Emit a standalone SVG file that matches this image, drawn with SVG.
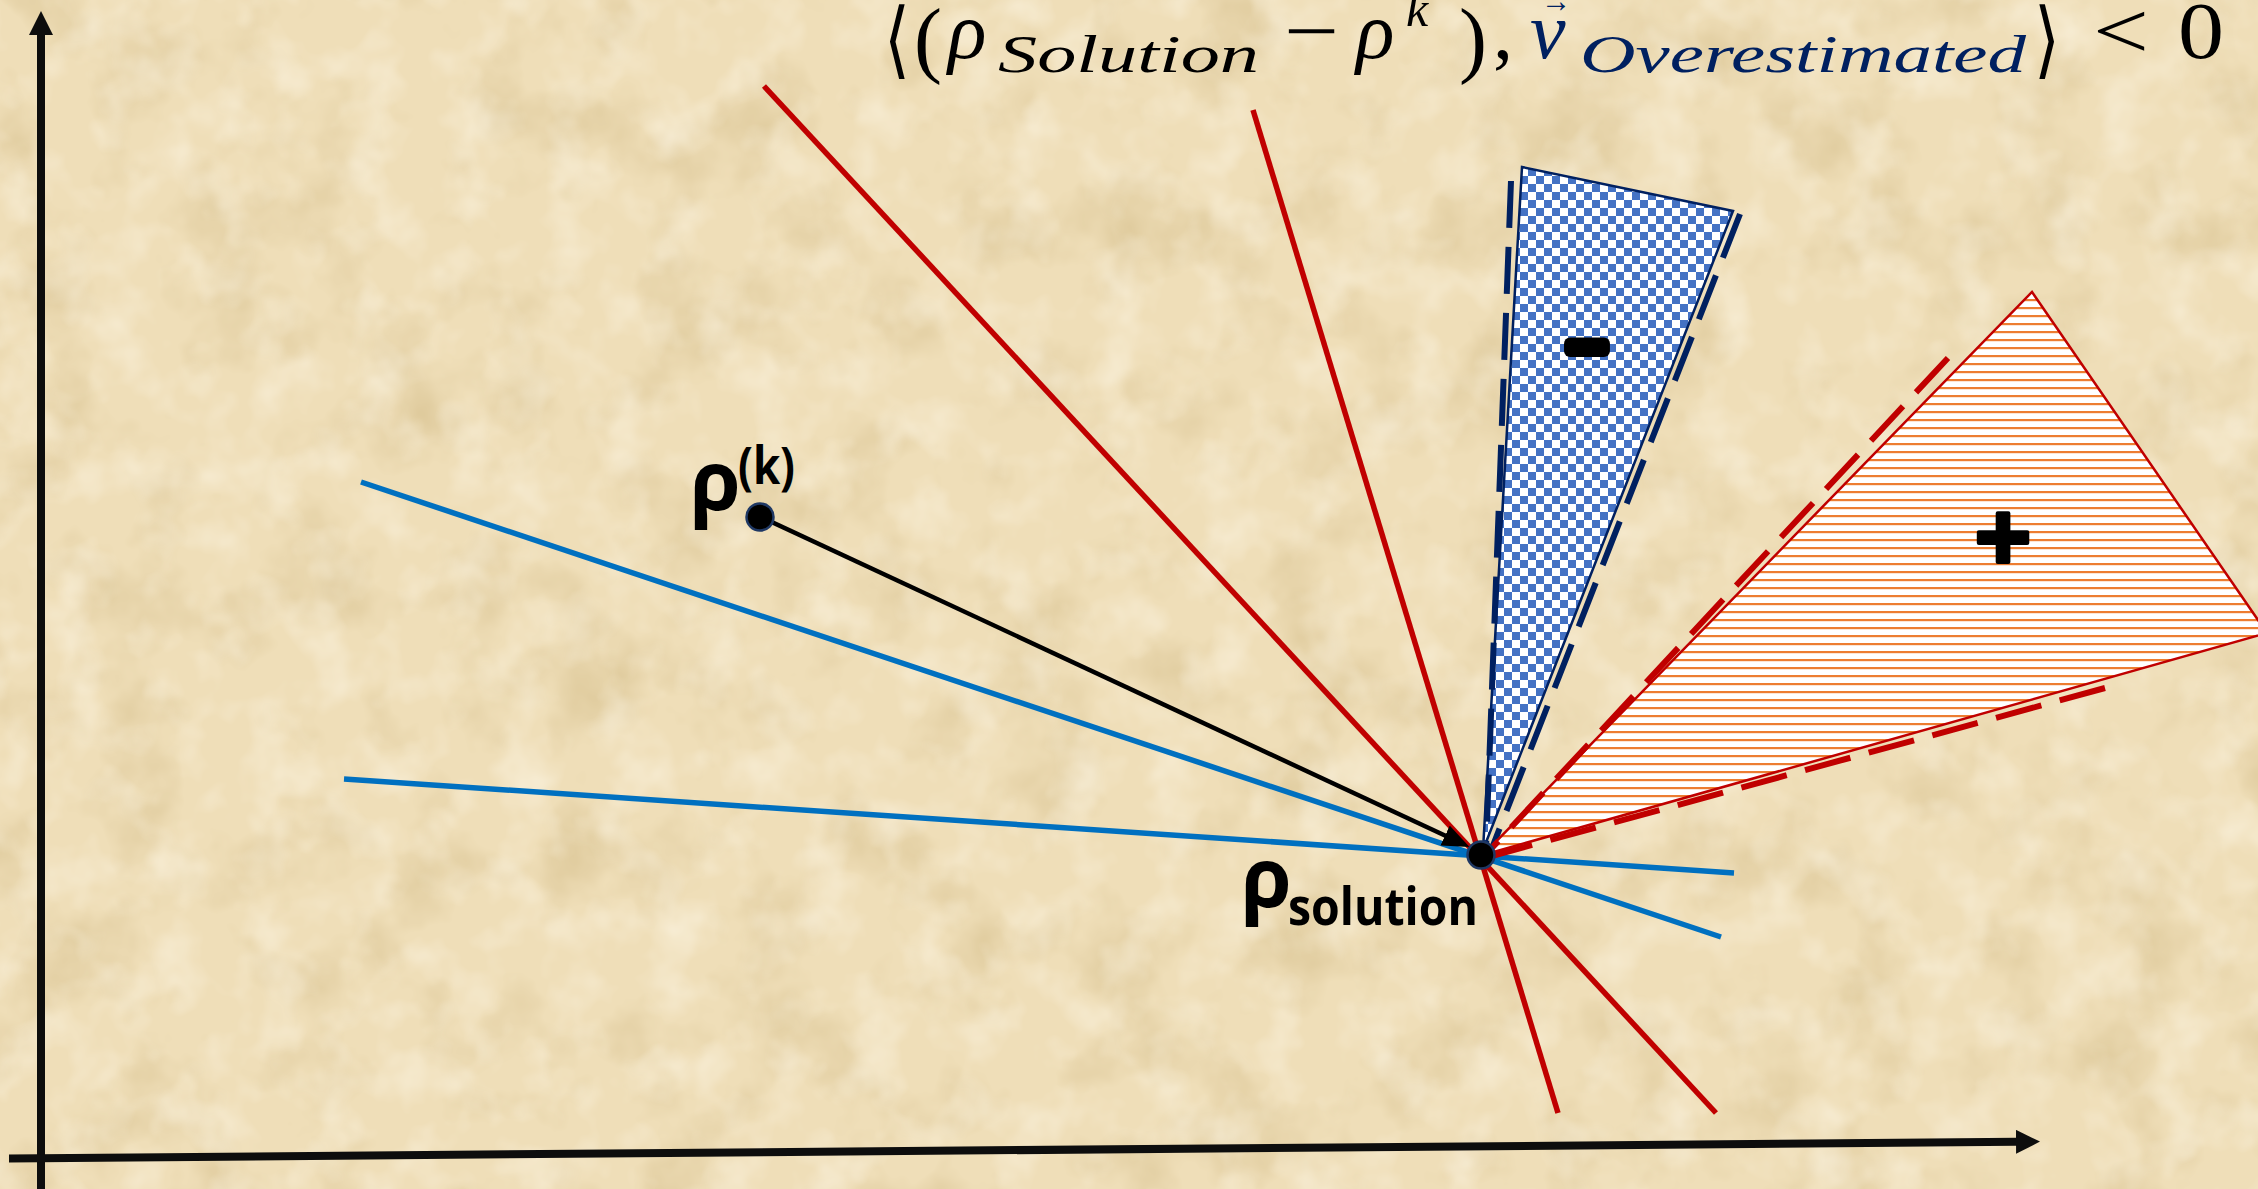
<svg xmlns="http://www.w3.org/2000/svg" width="2258" height="1189" viewBox="0 0 2258 1189">
<style>
.red{stroke:#C00000;stroke-width:5.5;fill:none;stroke-linecap:butt}
.blue{stroke:#0070C0;stroke-width:5.5;fill:none}
.navydash{stroke:#002060;stroke-width:6;fill:none;stroke-dasharray:47 19}
.reddash{stroke:#C00000;stroke-width:6;fill:none;stroke-dasharray:47 19}
.axis{stroke:#0D0D0D;stroke-width:8;fill:none}
.lbl{font-family:"Open Sans","DejaVu Sans",sans-serif;font-weight:bold;fill:#000}
.math{font-family:"Liberation Serif","DejaVu Serif",serif;fill:#000}
.it{font-style:italic}
.nv{fill:#002060}
</style>
<defs>
<filter id="paper" x="0" y="0" width="100%" height="100%">
<feTurbulence type="fractalNoise" baseFrequency="0.011" numOctaves="4" seed="7"/>
<feColorMatrix type="matrix" values="0 0 0 0 0.6  0 0 0 0 0.45  0 0 0 0 0.2  0 0 0 1.0 -0.48"/>
</filter>
<filter id="paper2" x="0" y="0" width="100%" height="100%">
<feTurbulence type="fractalNoise" baseFrequency="0.02" numOctaves="3" seed="4"/>
<feColorMatrix type="matrix" values="0 0 0 0 1  0 0 0 0 0.96  0 0 0 0 0.86  0 0 0 1.0 -0.45"/>
</filter>
<pattern id="checker" patternUnits="userSpaceOnUse" width="16" height="16">
<rect width="16" height="16" fill="#FFFFFF"/>
<rect width="8" height="8" fill="#4472C4"/>
<rect x="8" y="8" width="8" height="8" fill="#4472C4"/>
</pattern>
<pattern id="hatch" patternUnits="userSpaceOnUse" width="16" height="8">
<rect width="16" height="8" fill="#FFFFFF"/>
<rect y="3" width="16" height="2.2" fill="#ED7D31"/>
</pattern>
<marker id="axh" markerUnits="userSpaceOnUse" markerWidth="24" markerHeight="24" refX="1" refY="12" orient="auto">
<path d="M0,0 L24,12 L0,24 z" fill="#0D0D0D"/>
</marker>
<marker id="ah" markerUnits="userSpaceOnUse" markerWidth="27" markerHeight="22" refX="1" refY="11" orient="auto">
<path d="M0,0 L27,11 L0,22 z" fill="#000"/>
</marker>
</defs>

<g id="background">
<rect width="2258" height="1189" fill="#EFDEB8"/>
<rect width="2258" height="1189" filter="url(#paper)"/>
<rect width="2258" height="1189" filter="url(#paper2)"/>
</g>

<g id="axes">
<line class="axis" x1="41" y1="1189" x2="41" y2="34" marker-end="url(#axh)"/>
<line class="axis" x1="9" y1="1158.5" x2="2017" y2="1141.8" marker-end="url(#axh)"/>
</g>

<g id="connectors">
<line class="red" x1="764" y1="86" x2="1716" y2="1113"/>
<line class="red" x1="1253" y1="110" x2="1558" y2="1113"/>
<line class="blue" x1="361" y1="482" x2="1721" y2="937"/>
<line class="blue" x1="344" y1="779" x2="1734" y2="873"/>
<line x1="759" y1="516" x2="1446" y2="836" stroke="#000" stroke-width="4.5" marker-end="url(#ah)"/>
</g>

<g id="region-minus">
<polygon points="1522,167 1733,211 1483,850" fill="url(#checker)" stroke="#002060" stroke-width="2.5" stroke-linejoin="miter"/>
<line class="navydash" x1="1511" y1="181" x2="1486" y2="848"/>
<line class="navydash" x1="1740" y1="214" x2="1492" y2="848"/>
<text x="1587" y="372" text-anchor="middle" class="lbl" font-size="70" stroke="#000" stroke-width="12" stroke-linejoin="round">−</text>
</g>

<g id="region-plus">
<polygon points="2032,292 2267,633 1483,855" fill="url(#hatch)" stroke="#C00000" stroke-width="2.5"/>
<line class="reddash" x1="1948" y1="358" x2="1490" y2="850"/>
<line class="reddash" x1="2105" y1="688" x2="1488" y2="857"/>
<text x="2003" y="573" text-anchor="middle" class="lbl" font-size="100" stroke="#000" stroke-width="4" stroke-linejoin="round">+</text>
</g>

<g id="node-rho-k">
<circle cx="760" cy="517" r="13.5" fill="#000" stroke="#1F3864" stroke-width="2.5"/>
<text class="lbl" x="690" y="510" font-size="82">ρ</text>
<text class="lbl" x="738" y="484" font-size="52" textLength="57" lengthAdjust="spacingAndGlyphs">(k)</text>
</g>

<g id="node-rho-solution">
<circle cx="1481" cy="855" r="13.5" fill="#000" stroke="#1F3864" stroke-width="2.5"/>
<text class="lbl" x="1241" y="907" font-size="82">ρ</text>
<text class="lbl" x="1288" y="925" font-size="52" textLength="190" lengthAdjust="spacingAndGlyphs">solution</text>
</g>

<g id="formula" class="math">
<text x="884" y="68" font-size="84" font-family="DejaVu Serif, serif" textLength="26" lengthAdjust="spacingAndGlyphs">⟨</text>
<text x="914" y="67" font-size="84">(</text>
<text x="948" y="58" font-size="80" class="it">ρ</text>
<text x="998" y="72" font-size="53" class="it" textLength="261" lengthAdjust="spacingAndGlyphs">Solution</text>
<text x="1284" y="58" font-size="80" textLength="55" lengthAdjust="spacingAndGlyphs">−</text>
<text x="1356" y="58" font-size="80" class="it">ρ</text>
<text x="1406" y="26" font-size="50" class="it">k</text>
<text x="1459" y="67" font-size="84">)</text>
<text x="1493" y="58" font-size="80">,</text>
<text x="1530" y="58" font-size="80" class="it nv">v</text>
<text x="1541" y="12" font-size="34" class="nv" textLength="30" lengthAdjust="spacingAndGlyphs">→</text>
<text x="1580" y="72" font-size="53" class="it nv" textLength="446" lengthAdjust="spacingAndGlyphs">Overestimated</text>
<text x="2034" y="68" font-size="84" font-family="DejaVu Serif, serif" textLength="26" lengthAdjust="spacingAndGlyphs">⟩</text>
<text x="2093" y="58" font-size="80" textLength="56" lengthAdjust="spacingAndGlyphs">&lt;</text>
<text x="2178" y="58" font-size="80" textLength="46" lengthAdjust="spacingAndGlyphs">0</text>
</g>
</svg>
